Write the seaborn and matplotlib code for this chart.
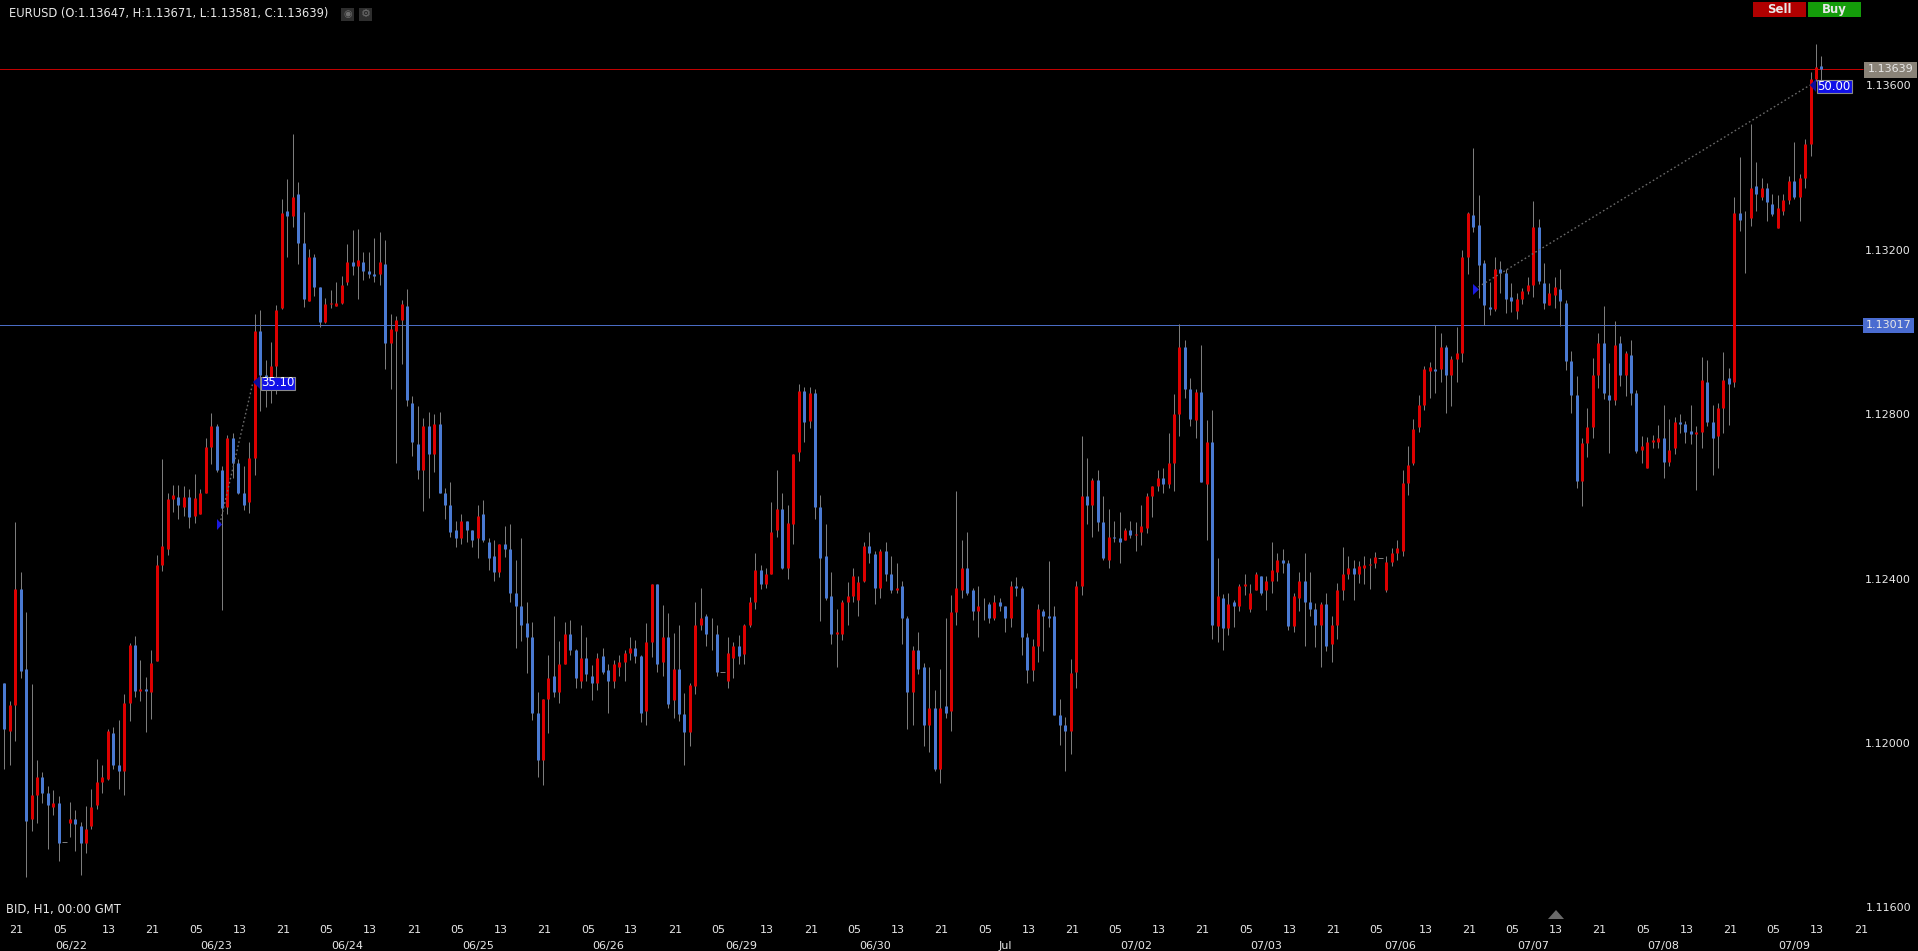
"""
EURUSD hourly candlestick chart, dark trading terminal look.
"""

import matplotlib.pyplot as plt
from matplotlib.patches import Polygon, Rectangle
from matplotlib.transforms import ScaledTranslation
import numpy as np
import pandas as pd
import seaborn as sns

W, H = 1918, 951

# Prices are stored as points above 1.10000 (2345 means 1.12345)
opens = [
    2147, 2030, 2093, 2375, 2181, 1816, 1874, 1918, 1879, 1845,
    1855, 1759, 1806, 1816, 1797, 1758, 1797, 1850, 1904, 1913,
    2025, 1947, 1933, 2098, 2239, 2127, 2132, 2123, 2200, 2434,
    2473, 2594, 2599, 2575, 2599, 2551, 2556, 2609, 2721, 2770,
    2663, 2575, 2741, 2682, 2609, 2585, 2692, 3003, 2896, 2866,
    2916, 3057, 3295, 3281, 3334, 3217, 3076, 3183, 3110, 3023,
    3067, 3062, 3071, 3120, 3169, 3159, 3169, 3149, 3140, 3140,
    3164, 2974, 3003, 3028, 3062, 2828, 2726, 2663, 2770, 2702,
    2775, 2609, 2580, 2517, 2498, 2541, 2517, 2498, 2556, 2488,
    2454, 2415, 2483, 2473, 2366, 2332, 2293, 2259, 2074, 1958,
    2108, 2162, 2123, 2191, 2264, 2225, 2152, 2206, 2162, 2147,
    2211, 2177, 2152, 2186, 2196, 2220, 2230, 2211, 2079, 2245,
    2386, 2196, 2259, 2104, 2181, 2070, 2026, 2138, 2288, 2308,
    2264, 2264, 2173, 2152, 2206, 2235, 2216, 2288, 2342, 2420,
    2386, 2410, 2517, 2570, 2425, 2532, 2707, 2857, 2784, 2852,
    2575, 2454, 2357, 2264, 2264, 2342, 2357, 2347, 2395, 2478,
    2459, 2376, 2468, 2410, 2371, 2381, 2303, 2123, 2225, 2186,
    2045, 2084, 1938, 2089, 2079, 2318, 2371, 2425, 2371, 2322,
    2327, 2337, 2303, 2342, 2332, 2303, 2381, 2376, 2259, 2177,
    2235, 2322, 2308, 2308, 2069, 2045, 2030, 2172, 2381, 2600,
    2580, 2639, 2537, 2444, 2502, 2498, 2493, 2517, 2507, 2512,
    2522, 2600, 2624, 2644, 2629, 2682, 2799, 2964, 2862, 2785,
    2853, 2629, 2731, 2284, 2352, 2279, 2342, 2332, 2381, 2327,
    2371, 2405, 2371, 2395, 2415, 2444, 2439, 2284, 2352, 2395,
    2342, 2327, 2288, 2337, 2240, 2288, 2371, 2410, 2425, 2410,
    2425, 2434, 2438, 2450, 2372, 2440, 2462, 2467, 2633, 2682,
    2769, 2823, 2905, 2910, 2910, 2964, 2896, 2935, 2949, 3183,
    3285, 3260, 3168, 3061, 3056, 3153, 3144, 3085, 3051, 3081,
    3100, 3115, 3256, 3119, 3066, 3090, 3105, 3071, 2930, 2847,
    2638, 2730, 2769, 2896, 2974, 2847, 2833, 2974, 2896, 2944,
    2852, 2712, 2668, 2731, 2731, 2741, 2683, 2717, 2780, 2775,
    2760, 2751, 2756, 2877, 2780, 2746, 2814, 2887, 2877, 3290,
    3271, 3276, 3354, 3329, 3349, 3310, 3252, 3295, 3320, 3368,
    3329, 3373, 3456, 3616, 3647,
]
highs = [
    2147, 2103, 2538, 2416, 2319, 2144, 1959, 1930, 1896, 1886,
    1871, 1759, 1857, 1837, 1808, 1847, 1889, 1961, 1947, 2035,
    2040, 2056, 2118, 2244, 2261, 2202, 2161, 2226, 2458, 2691,
    2609, 2628, 2628, 2626, 2618, 2655, 2618, 2742, 2802, 2776,
    2673, 2750, 2755, 2691, 2673, 2733, 3044, 3052, 2932, 2976,
    3065, 3324, 3372, 3480, 3365, 3292, 3202, 3190, 3110, 3083,
    3101, 3122, 3135, 3214, 3247, 3251, 3195, 3193, 3229, 3243,
    3224, 3044, 3039, 3078, 3105, 2843, 2819, 2791, 2804, 2801,
    2804, 2621, 2635, 2541, 2556, 2541, 2517, 2579, 2592, 2499,
    2493, 2483, 2527, 2532, 2446, 2499, 2342, 2295, 2125, 2108,
    2213, 2309, 2247, 2295, 2298, 2229, 2288, 2257, 2190, 2220,
    2232, 2193, 2203, 2213, 2225, 2259, 2250, 2213, 2291, 2386,
    2386, 2335, 2315, 2267, 2286, 2121, 2147, 2344, 2378, 2313,
    2303, 2288, 2173, 2259, 2245, 2262, 2290, 2356, 2463, 2432,
    2425, 2587, 2663, 2607, 2580, 2702, 2872, 2865, 2865, 2860,
    2604, 2532, 2417, 2327, 2349, 2391, 2425, 2405, 2488, 2512,
    2466, 2471, 2490, 2456, 2437, 2395, 2308, 2235, 2271, 2194,
    2186, 2128, 2181, 2303, 2359, 2614, 2493, 2512, 2378, 2381,
    2352, 2344, 2359, 2352, 2332, 2393, 2403, 2383, 2267, 2254,
    2339, 2327, 2442, 2332, 2108, 2064, 2205, 2393, 2746, 2692,
    2644, 2663, 2600, 2568, 2541, 2561, 2524, 2539, 2537, 2580,
    2607, 2624, 2665, 2668, 2753, 2850, 3020, 2981, 2887, 2860,
    2969, 2785, 2811, 2449, 2362, 2366, 2347, 2386, 2410, 2386,
    2415, 2405, 2405, 2488, 2461, 2473, 2444, 2366, 2417, 2461,
    2415, 2340, 2342, 2366, 2308, 2388, 2476, 2456, 2444, 2442,
    2456, 2451, 2465, 2450, 2455, 2474, 2494, 2664, 2723, 2789,
    2847, 2918, 2927, 3017, 2998, 2969, 2942, 3012, 3199, 3292,
    3447, 3333, 3175, 3122, 3183, 3173, 3153, 3119, 3094, 3107,
    3134, 3319, 3275, 3168, 3119, 3134, 3153, 3078, 2954, 2892,
    2743, 2815, 2937, 2998, 3064, 2923, 3027, 2991, 2954, 2979,
    2859, 2747, 2744, 2749, 2773, 2821, 2787, 2792, 2799, 2782,
    2821, 2770, 2938, 2931, 2821, 2828, 2950, 2911, 3329, 3424,
    3293, 3506, 3414, 3373, 3361, 3334, 3332, 3334, 3380, 3461,
    3385, 3470, 3633, 3701, 3671,
]
lows = [
    1938, 1947, 2006, 2157, 1674, 1787, 1805, 1855, 1742, 1824,
    1712, 1759, 1771, 1738, 1678, 1732, 1792, 1839, 1879, 1909,
    1938, 1889, 1874, 2053, 2111, 2101, 2026, 2058, 2200, 2418,
    2458, 2563, 2544, 2553, 2522, 2534, 2556, 2609, 2678, 2658,
    2324, 2557, 2644, 2606, 2566, 2559, 2652, 2807, 2817, 2827,
    2848, 3055, 3183, 3256, 3164, 3060, 3076, 3088, 3011, 3021,
    3057, 3062, 3067, 3113, 3137, 3081, 3125, 3131, 3120, 3115,
    2909, 2862, 2681, 2921, 2819, 2699, 2642, 2564, 2595, 2658,
    2609, 2545, 2502, 2476, 2483, 2488, 2476, 2449, 2488, 2420,
    2393, 2403, 2452, 2342, 2230, 2247, 2170, 2055, 1917, 1898,
    2024, 2111, 2097, 2191, 2213, 2135, 2135, 2152, 2104, 2130,
    2167, 2074, 2133, 2162, 2152, 2203, 2194, 2050, 2043, 2208,
    2172, 2164, 2084, 2060, 2053, 1946, 1992, 2118, 2276, 2237,
    2225, 2164, 2173, 2135, 2159, 2191, 2191, 2281, 2325, 2374,
    2376, 2410, 2502, 2422, 2398, 2485, 2685, 2731, 2767, 2544,
    2296, 2347, 2240, 2186, 2250, 2288, 2342, 2308, 2391, 2437,
    2339, 2352, 2393, 2364, 2364, 2240, 2033, 2045, 2167, 1992,
    1977, 1933, 1902, 2062, 2028, 2288, 2352, 2359, 2298, 2257,
    2298, 2291, 2298, 2322, 2269, 2281, 2357, 2213, 2147, 2150,
    2196, 2223, 2281, 2067, 1996, 1933, 1974, 2135, 2359, 2532,
    2502, 2515, 2444, 2425, 2488, 2439, 2493, 2498, 2468, 2481,
    2510, 2549, 2612, 2609, 2619, 2612, 2746, 2838, 2772, 2741,
    2634, 2493, 2252, 2245, 2225, 2262, 2281, 2320, 2361, 2318,
    2371, 2361, 2323, 2364, 2395, 2413, 2274, 2269, 2320, 2235,
    2308, 2233, 2184, 2223, 2196, 2252, 2349, 2398, 2349, 2388,
    2386, 2374, 2426, 2450, 2367, 2431, 2445, 2455, 2604, 2677,
    2757, 2811, 2840, 2852, 2879, 2803, 2820, 2879, 2927, 3141,
    3243, 3083, 3017, 3042, 3051, 3095, 3046, 3049, 3032, 3068,
    3093, 3085, 3117, 3056, 3066, 3059, 3015, 2908, 2803, 2621,
    2577, 2696, 2743, 2864, 2837, 2706, 2823, 2869, 2845, 2823,
    2706, 2680, 2668, 2717, 2717, 2644, 2673, 2702, 2753, 2729,
    2726, 2615, 2717, 2770, 2653, 2668, 2753, 2773, 2867, 3244,
    3142, 3257, 3293, 3320, 3269, 3281, 3252, 3283, 3310, 3322,
    3269, 3349, 3427, 3611, 3581,
]
closes = [
    2035, 2093, 2375, 2176, 1811, 1874, 1918, 1879, 1850, 1855,
    1758, 1759, 1816, 1802, 1758, 1792, 1845, 1904, 1918, 2030,
    1947, 1933, 2098, 2239, 2127, 2132, 2127, 2195, 2434, 2478,
    2594, 2604, 2580, 2599, 2550, 2595, 2609, 2721, 2770, 2663,
    2571, 2741, 2682, 2609, 2580, 2692, 3003, 2896, 2882, 2916,
    3052, 3290, 3281, 3329, 3217, 3081, 3183, 3110, 3023, 3067,
    3071, 3071, 3115, 3169, 3159, 3174, 3149, 3140, 3135, 3169,
    2974, 3008, 3028, 3067, 2833, 2731, 2663, 2770, 2702, 2775,
    2609, 2580, 2512, 2498, 2541, 2517, 2493, 2551, 2493, 2449,
    2415, 2483, 2473, 2366, 2332, 2288, 2259, 2074, 1958, 2108,
    2157, 2123, 2191, 2264, 2225, 2157, 2206, 2167, 2147, 2206,
    2172, 2152, 2191, 2196, 2220, 2230, 2211, 2074, 2245, 2386,
    2191, 2259, 2094, 2181, 2070, 2026, 2142, 2288, 2303, 2264,
    2266, 2172, 2173, 2220, 2235, 2211, 2288, 2342, 2420, 2386,
    2410, 2512, 2570, 2425, 2536, 2702, 2857, 2780, 2852, 2575,
    2449, 2352, 2264, 2269, 2342, 2357, 2405, 2391, 2478, 2463,
    2376, 2468, 2410, 2371, 2376, 2303, 2123, 2225, 2181, 2045,
    2084, 1938, 2084, 2074, 2318, 2376, 2425, 2366, 2322, 2332,
    2325, 2303, 2342, 2332, 2303, 2381, 2376, 2259, 2177, 2235,
    2327, 2308, 2303, 2069, 2045, 2030, 2171, 2381, 2600, 2580,
    2639, 2537, 2449, 2502, 2498, 2488, 2517, 2507, 2509, 2527,
    2600, 2624, 2644, 2629, 2682, 2799, 2964, 2862, 2789, 2853,
    2634, 2731, 2288, 2357, 2279, 2337, 2332, 2381, 2386, 2366,
    2410, 2366, 2395, 2420, 2444, 2439, 2284, 2357, 2395, 2342,
    2327, 2288, 2337, 2235, 2288, 2371, 2410, 2425, 2410, 2430,
    2434, 2436, 2453, 2450, 2440, 2462, 2474, 2633, 2677, 2764,
    2823, 2910, 2915, 2905, 2964, 2896, 2935, 2949, 3183, 3290,
    3256, 3163, 3066, 3056, 3153, 3144, 3081, 3076, 3081, 3100,
    3115, 3256, 3124, 3071, 3095, 3110, 3076, 2930, 2847, 2638,
    2730, 2769, 2896, 2974, 2852, 2833, 2969, 2896, 2949, 2852,
    2711, 2722, 2731, 2736, 2741, 2683, 2712, 2780, 2775, 2756,
    2751, 2756, 2882, 2780, 2741, 2814, 2882, 2872, 3290, 3271,
    3273, 3349, 3334, 3349, 3315, 3286, 3300, 3320, 3368, 3329,
    3373, 3456, 3616, 3645, 3639,
]

price_ticks = [1.136, 1.132, 1.128, 1.124, 1.120, 1.116]
bid_line = 1.13639
ask_line = 1.13017
hour_names = ["21", "05", "13"]
date_names = ["06/22", "06/23", "06/24", "06/25", "06/26", "06/29", "06/30",
              "Jul", "07/02", "07/03", "07/06", "07/07", "07/08", "07/09"]

# Two measure lines: (bar, price) at each end
measure_a = ([39.6, 45.7], [1.125325, 1.128778])
measure_b = ([270.3, 331.9], [1.131040, 1.136000])

BG = "#000000"
TXT = "#e8e8e8"
RED = "#dd0000"
BLUE = "#4a7ad2"
WICK = "#7c7c7c"

sns.set_theme(style="dark", rc={
    "figure.facecolor": BG,
    "axes.facecolor": BG,
    "axes.grid": False,
    "text.color": TXT,
    "xtick.color": TXT,
    "ytick.color": TXT,
})
plt.rcParams["font.family"] = ["DejaVu Sans"]
plt.rcParams["font.size"] = 8


def price(values):
    return 1.1 + np.asarray(values) / 1e5


bars = pd.DataFrame({
    "bar": np.arange(len(opens)),
    "open": price(opens),
    "high": price(highs),
    "low": price(lows),
    "close": price(closes),
})
bars["dir"] = np.where(bars["close"] >= bars["open"], "up", "down")
wicks = bars.melt(id_vars=["bar"], value_vars=["high", "low"], value_name="price")
bodies = bars.melt(id_vars=["bar", "dir"], value_vars=["open", "close"], value_name="price")
flat = bars[bars["high"] == bars["low"]]

fig = plt.figure(figsize=(W / 100, H / 100), dpi=100)
ax = fig.add_axes([0, 1 - 919 / H, 1, 919 / H])

sns.lineplot(data=wicks, x="bar", y="price", units="bar", estimator=None,
             color=WICK, linewidth=0.72, solid_capstyle="butt", ax=ax, legend=False)
sns.lineplot(data=bodies, x="bar", y="price", units="bar", estimator=None,
             hue="dir", palette={"up": RED, "down": BLUE}, linewidth=2.16,
             solid_capstyle="butt", ax=ax, legend=False)
ax.hlines(flat["high"], flat["bar"] - 0.5, flat["bar"] + 0.5, color=WICK, linewidth=0.72)

ax.hlines(bid_line, -1, 341.6, color="#c00000", linewidth=0.72, zorder=1)
ax.hlines(ask_line, -1, 341.6, color="#4a6cc4", linewidth=0.72, zorder=1)
for xs, ys in (measure_a, measure_b):
    ax.plot(xs, ys, color="#6a6a6a", linewidth=1.0, linestyle=(0, (1.2, 1.8)), zorder=4)

ax.set_xlim(-0.81, 351.76)
ax.set_ylim(1.11572, 1.13807)
sns.despine(ax=ax, left=True, bottom=True, right=True, top=True)
ax.set_xlabel("")
ax.set_ylabel("")

# Hour ticks, the flat bars push the spacing out by one now and then
tick_pos = [2, 10] + list(range(19, 132, 8)) + list(range(140, 253, 8)) + list(range(261, 342, 8))
tick_names = [hour_names[k % 3] for k in range(len(tick_pos))]
ax.set_xticks(tick_pos, labels=tick_names)
ax.tick_params(axis="x", length=3, width=0.72, pad=1, color="#9a9a9a", labelsize=8)
nudge = ScaledTranslation(1.3 / 100, 0, fig.dpi_scale_trans)
for lab in ax.get_xticklabels():
    lab.set_transform(lab.get_transform() + nudge)

ax.yaxis.tick_right()
ax.set_yticks(price_ticks, labels=[f"{p:.5f}" for p in price_ticks])
ax.tick_params(axis="y", length=0, pad=-5, labelsize=8)
for lab in ax.get_yticklabels():
    lab.set_ha("right")

evenings = tick_pos[::3]
date_pos = [12.2] + [(a + b) / 2 for a, b in zip(evenings[1:-1], evenings[2:])]
dates_axis = ax.secondary_xaxis("bottom")
dates_axis.set_xticks(date_pos, labels=date_names)
dates_axis.tick_params(length=0, pad=16, labelsize=8)
dates_axis.spines["bottom"].set_visible(False)


def box(x0, y0, x1, y1, color, edge="none"):
    fig.add_artist(Rectangle((x0 / W, 1 - y1 / H), (x1 - x0) / W, (y1 - y0) / H,
                             transform=fig.transFigure, facecolor=color,
                             edgecolor=edge, linewidth=0.8))


def tri(points, color):
    fig.add_artist(Polygon([(x / W, 1 - y / H) for x, y in points],
                           transform=fig.transFigure, facecolor=color, edgecolor="none"))


def label(x, y, text, ha="left", **kw):
    fig.text(x / W, 1 - y / H, text, ha=ha, va="center", **kw)


# Header and footer text
label(9, 14, "EURUSD (O:1.13647, H:1.13671, L:1.13581, C:1.13639)", color=TXT, fontsize=8.3)
label(6, 910, "BID, H1, 00:00 GMT", color=TXT, fontsize=8.4)

# Small icon buttons next to the header
box(341, 8, 354, 21, "#2e2e2e")
box(359, 8, 372, 21, "#2e2e2e")
label(347.5, 14, "\u25c9", ha="center", color="#6e6e6e", fontsize=7)
label(365.5, 14, "\u2699", ha="center", color="#6e6e6e", fontsize=8)

# Sell and buy buttons
box(1753, 2, 1806, 17, "#b00000")
box(1808, 2, 1861, 17, "#149c0a")
label(1779.5, 9.5, "Sell", ha="center", color=TXT, fontweight="bold", fontsize=8.5)
label(1834.5, 9.5, "Buy", ha="center", color=TXT, fontweight="bold", fontsize=8.5)

# Price tags on the two horizontal lines
box(1864, 62, 1917, 78, "#8a8378")
label(1890.5, 69.5, f"{bid_line:.5f}", ha="center", color=TXT)
box(1863, 318, 1914, 333, "#4a6cd0")
label(1888.5, 325.5, f"{ask_line:.5f}", ha="center", color=TXT)

# Measure tags
tri([(217, 519), (222, 524.5), (217, 530)], "#1a1ae0")
tri([(1473, 284), (1479, 289.5), (1473, 295)], "#1a1ae0")
tri([(253, 382), (260, 376), (260, 389)], "#0b0b9c")
tri([(1810, 85), (1816, 79), (1816, 92)], "#0b0b9c")
box(260.5, 376.5, 295, 389.5, "#1010e8", edge="#8a8a8a")
label(277.75, 383, "35.10", ha="center", color="#ffffff", fontsize=8.5)
box(1816.5, 79.5, 1851.5, 92.5, "#1010e8", edge="#8a8a8a")
label(1834, 86, "50.00", ha="center", color="#ffffff", fontsize=8.5)

# Grey marker above the time axis
tri([(1548, 919), (1564, 919), (1556, 910)], "#6a6a6a")

plt.savefig("out.png", dpi=100, facecolor=BG)
